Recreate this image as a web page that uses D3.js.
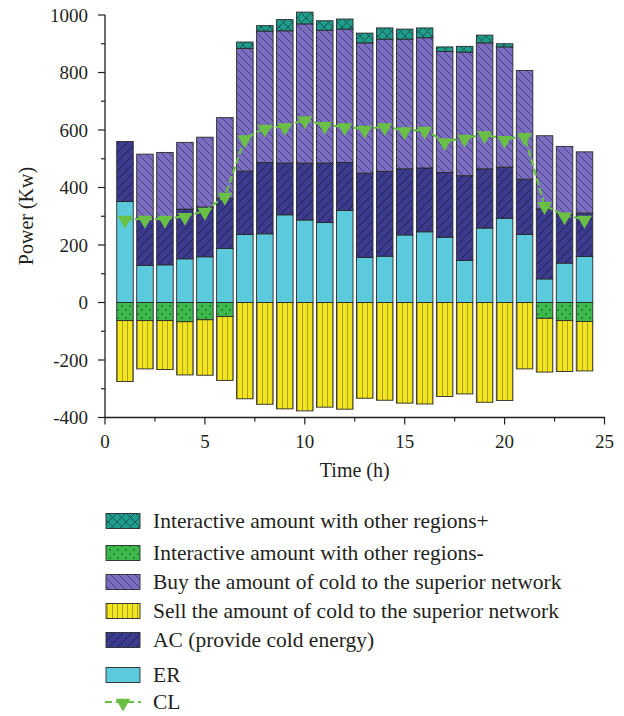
<!DOCTYPE html>
<html>
<head>
<meta charset="utf-8">
<script src="https://cdn.jsdelivr.net/npm/d3@7/dist/d3.min.js"></script>
<style>
  html, body { margin: 0; padding: 0; background: #fff; }
  svg { display: block; }
  text { font-family: "Liberation Serif", "DejaVu Serif", serif; fill: #231f20; }
</style>
</head>
<body>
<div id="chart"></div>
<script>
// ---------- data ----------
const hours = d3.range(1, 25);
const er       = [351,129,131,152,159,188,237,239,305,287,278,320,157,161,235,246,227,146,259,293,237,82,137,160];
const ac       = [209,164,162,173,173,175,220,248,180,198,207,167,293,295,230,222,225,295,206,178,192,244,170,151];
const buy      = [0,223,229,232,243,280,427,457,460,484,462,464,453,460,451,453,421,430,438,418,378,254,236,213];
const intPlus  = [0,0,0,0,0,0,22,19,39,41,33,35,34,39,35,34,16,20,27,11,0,0,0,0];
const intMinus = [-63,-63,-63,-67,-60,-49,0,0,0,0,0,0,0,0,0,0,0,0,0,0,0,-55,-63,-66];
const sell     = [-212,-168,-170,-185,-193,-222,-335,-354,-370,-377,-364,-371,-333,-340,-350,-353,-327,-318,-347,-341,-231,-187,-177,-172];
const cl       = [290,290,290,300,318,370,570,607,612,636,616,612,603,612,598,600,560,572,584,568,578,338,302,290];
const xTicks = [0, 5, 10, 15, 20, 25];
const yTicks = [-400, -200, 0, 200, 400, 600, 800, 1000];

const legendLabels = [
  "Interactive amount with other regions+",
  "Interactive amount with other regions-",
  "Buy the amount of cold to the superior network",
  "Sell the amount of cold to the superior network",
  "AC (provide cold energy)",
  "ER",
  "CL"
];

// ---------- setup ----------
const W = 624, H = 716;
const svg = d3.select("#chart").append("svg").attr("width", W).attr("height", H);

const x = d3.scaleLinear().domain([0, 25]).range([105, 604.5]);
const y = d3.scaleLinear().domain([-400, 1000]).range([417.5, 15]);
const barW = 16.5;

// patterns
const defs = svg.append("defs");
function pat(id, size, bg, draw) {
  const p = defs.append("pattern").attr("id", id).attr("patternUnits", "userSpaceOnUse")
    .attr("width", size).attr("height", size);
  p.append("rect").attr("width", size).attr("height", size).attr("fill", bg);
  draw(p, size);
}
pat("pIntPlus", 9, "#1f9c8c", (p, s) => {
  p.append("path").attr("d", `M0,0L${s},${s}M${s},0L0,${s}`).attr("stroke", "#0d4a44").attr("stroke-width", 0.8);
});
pat("pIntMinus", 8, "#3cb84c", (p, s) => {
  p.append("circle").attr("cx", 2).attr("cy", 2).attr("r", 0.8).attr("fill", "#14501c");
  p.append("circle").attr("cx", 6).attr("cy", 6).attr("r", 0.8).attr("fill", "#14501c");
});
pat("pBuy", 8, "#7b6dbf", (p, s) => {
  p.append("path").attr("d", `M0,0L${s},${s}M-2,${s-2}L2,${s+2}M${s-2},-2L${s+2},2`).attr("stroke", "#3b3475").attr("stroke-width", 0.8);
});
pat("pSell", 5, "#f2e51c", (p, s) => {
  p.append("path").attr("d", `M2.5,0L2.5,${s}`).attr("stroke", "#8c8030").attr("stroke-width", 0.7);
});
pat("pAC", 9, "#3b3a8c", (p, s) => {
  p.append("path").attr("d", `M0,${s}L${s},0M-2,2L2,-2M${s-2},${s+2}L${s+2},${s-2}`).attr("stroke", "#1c1c4c").attr("stroke-width", 0.8);
});

const fills = {
  intPlus: "url(#pIntPlus)",
  intMinus: "url(#pIntMinus)",
  buy: "url(#pBuy)",
  sell: "url(#pSell)",
  ac: "url(#pAC)",
  er: "#5ccadd"
};

// ---------- stacking ----------
const table = hours.map((h, i) => ({
  hour: h, er: er[i], ac: ac[i], buy: buy[i], intPlus: intPlus[i], intMinus: intMinus[i], sell: sell[i]
}));
const keys = ["er", "ac", "buy", "intPlus", "intMinus", "sell"];
const series = d3.stack().keys(keys).offset(d3.stackOffsetDiverging)(table);

const gBars = svg.append("g");
series.forEach(s => {
  gBars.selectAll(null)
    .data(s.filter(d => d[1] !== d[0]))
    .join("rect")
    .attr("x", d => x(d.data.hour) - barW / 2)
    .attr("width", barW)
    .attr("y", d => y(Math.max(d[0], d[1])))
    .attr("height", d => Math.abs(y(d[0]) - y(d[1])))
    .attr("fill", fills[s.key])
    .attr("stroke", "#2a2a2a")
    .attr("stroke-width", 0.9);
});

// ---------- CL line ----------
const clColor = "#6abf45";
const line = d3.line().x((d, i) => x(hours[i])).y(d => y(d));
svg.append("path").datum(cl).attr("d", line)
  .attr("fill", "none").attr("stroke", clColor).attr("stroke-width", 2.2)
  .attr("stroke-dasharray", "7,3");
const tri = d3.symbol().type(d3.symbolTriangle).size(95);
svg.selectAll(".mk").data(cl).join("path")
  .attr("transform", (d, i) => `translate(${x(hours[i])},${y(d) + 1}) rotate(180)`)
  .attr("d", tri).attr("fill", clColor);

// ---------- axes ----------
const axisColor = "#231f20";
const gx = svg.append("g").attr("transform", `translate(0,${y(-400)})`);
gx.append("line").attr("x1", x(0) - 0.5).attr("x2", x(25) + 0.5).attr("stroke", axisColor).attr("stroke-width", 1.3);
gx.selectAll(".tmin").data(d3.range(2.5, 25, 5)).join("line")
  .attr("x1", d => x(d)).attr("x2", d => x(d)).attr("y1", 0).attr("y2", 4)
  .attr("stroke", axisColor).attr("stroke-width", 1.2);
gx.selectAll(".tmaj").data(xTicks).join("line")
  .attr("x1", d => x(d)).attr("x2", d => x(d)).attr("y1", 0).attr("y2", 7)
  .attr("stroke", axisColor).attr("stroke-width", 1.2);
gx.selectAll(".tl").data(xTicks).join("text")
  .attr("x", d => x(d)).attr("y", 30).attr("text-anchor", "middle")
  .attr("font-size", 19).text(d => d);

const gy = svg.append("g").attr("transform", `translate(${x(0)},0)`);
gy.append("line").attr("y1", y(1000)).attr("y2", y(-400)).attr("stroke", axisColor).attr("stroke-width", 1.3);
gy.selectAll(".tmin").data(d3.range(-300, 1000, 200)).join("line")
  .attr("x1", 0).attr("x2", -4).attr("y1", d => y(d)).attr("y2", d => y(d))
  .attr("stroke", axisColor).attr("stroke-width", 1.2);
gy.selectAll(".tmaj").data(yTicks).join("line")
  .attr("x1", 0).attr("x2", -7).attr("y1", d => y(d)).attr("y2", d => y(d))
  .attr("stroke", axisColor).attr("stroke-width", 1.2);
gy.selectAll(".tl").data(yTicks).join("text")
  .attr("x", -17).attr("y", d => y(d)).attr("dy", "0.35em").attr("text-anchor", "end")
  .attr("font-size", 19).text(d => d);

svg.append("text").attr("transform", `translate(33,216) rotate(-90)`)
  .attr("text-anchor", "middle").attr("font-size", 20).text("Power (Kw)");
svg.append("text").attr("x", x(12.5)).attr("y", 477)
  .attr("text-anchor", "middle").attr("font-size", 20).text("Time (h)");

// ---------- legend ----------
const legY = [521, 553, 582, 611, 640, 675, 702];
const legFills = [fills.intPlus, fills.intMinus, fills.buy, fills.sell, fills.ac, fills.er];
const gl = svg.append("g");
legendLabels.forEach((lab, i) => {
  const cy = legY[i];
  if (i < 6) {
    gl.append("rect").attr("x", 106).attr("y", cy - 7.5).attr("width", 34).attr("height", 15)
      .attr("fill", legFills[i]).attr("stroke", "#2a2a2a").attr("stroke-width", 0.9);
  } else {
    gl.append("line").attr("x1", 105).attr("x2", 141).attr("y1", cy).attr("y2", cy)
      .attr("stroke", clColor).attr("stroke-width", 2).attr("stroke-dasharray", "7,4");
    gl.append("path").attr("transform", `translate(123,${cy + 1}) rotate(180)`)
      .attr("d", tri).attr("fill", clColor);
  }
  gl.append("text").attr("x", 153).attr("y", cy).attr("dy", "0.33em")
    .attr("font-size", 21.5).text(lab);
});
</script>
</body>
</html>
